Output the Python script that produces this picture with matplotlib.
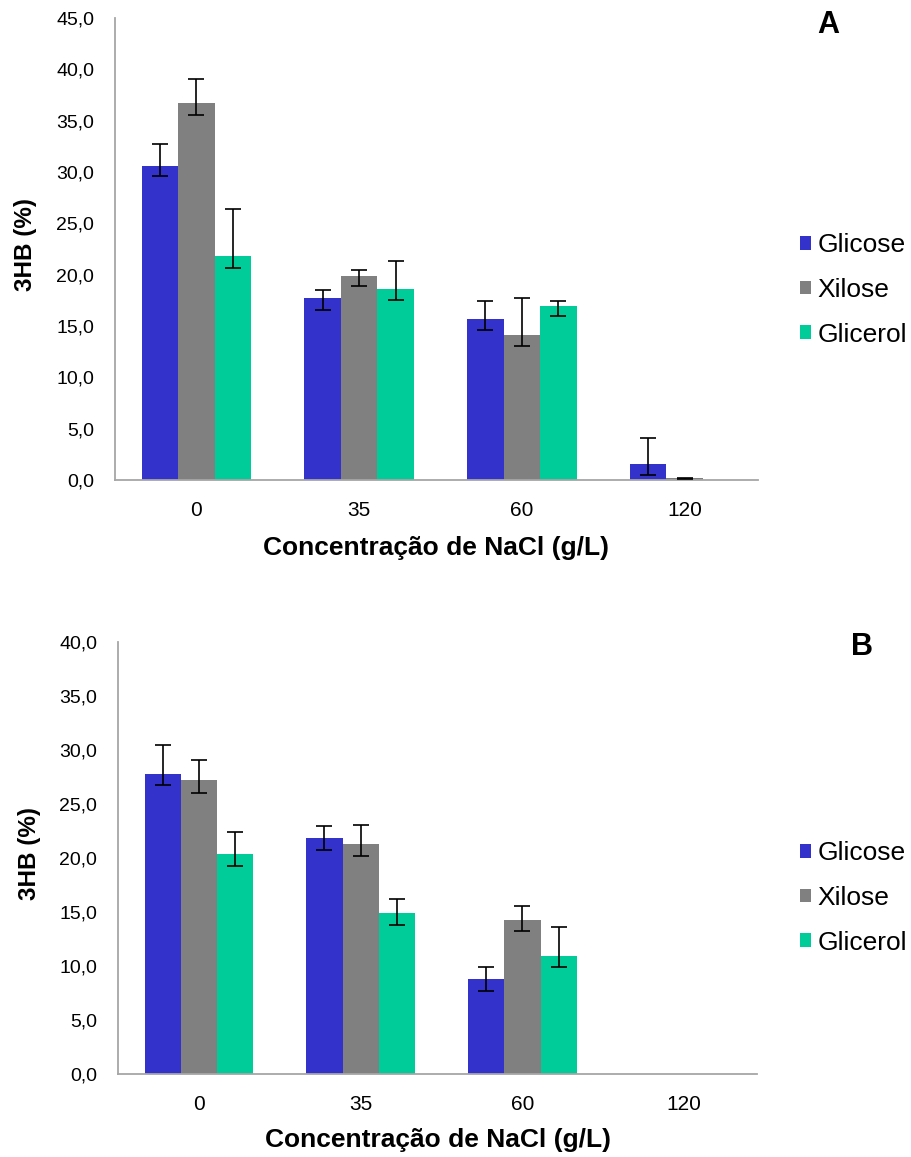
import numpy as np
import matplotlib
matplotlib.use("Agg")
import matplotlib.pyplot as plt
from matplotlib.ticker import FuncFormatter, MultipleLocator

plt.rcParams['font.family'] = ['Liberation Sans', 'DejaVu Sans']

# NaCl concentrations (g/L)
categories = ["0", "35", "60", "120"]
series_names = ["Glicose", "Xilose", "Glicerol"]
colors = ["#3333CC", "#808080", "#00CC99"]

# Panel A: 3HB (%) with lower / upper error
glicose_a = [30.6, 17.7, 15.7, 1.6]
glicose_a_lo = [1.0, 1.1, 1.1, 1.1]
glicose_a_hi = [2.1, 0.8, 1.7, 2.5]
xilose_a = [36.7, 19.9, 14.1, 0.15]
xilose_a_lo = [1.1, 1.0, 1.0, 0.05]
xilose_a_hi = [2.4, 0.6, 3.6, 0.05]
glicerol_a = [21.8, 18.6, 17.0, 0.05]
glicerol_a_lo = [1.1, 1.1, 1.0, 0.0]
glicerol_a_hi = [4.6, 2.7, 0.4, 0.0]

# Panel B
glicose_b = [27.8, 21.9, 8.8, 0.0]
glicose_b_lo = [1.0, 1.2, 1.1, 0.0]
glicose_b_hi = [2.7, 1.1, 1.1, 0.0]
xilose_b = [27.2, 21.3, 14.3, 0.0]
xilose_b_lo = [1.2, 1.1, 1.1, 0.0]
xilose_b_hi = [1.9, 1.8, 1.3, 0.0]
glicerol_b = [20.4, 14.9, 10.9, 0.0]
glicerol_b_lo = [1.1, 1.1, 1.0, 0.0]
glicerol_b_hi = [2.0, 1.3, 2.7, 0.0]

panel_a = [(glicose_a, glicose_a_lo, glicose_a_hi),
           (xilose_a, xilose_a_lo, xilose_a_hi),
           (glicerol_a, glicerol_a_lo, glicerol_a_hi)]
panel_b = [(glicose_b, glicose_b_lo, glicose_b_hi),
           (xilose_b, xilose_b_lo, xilose_b_hi),
           (glicerol_b, glicerol_b_lo, glicerol_b_hi)]

fig = plt.figure(figsize=(9.12, 11.57), dpi=100)
ax_a = fig.add_axes([0.126, 0.5851, 0.705, 0.3993])
ax_b = fig.add_axes([0.1294, 0.0717, 0.7007, 0.3734])

width = 0.224
x = np.arange(len(categories))
comma = FuncFormatter(lambda v, p: f"{v:.1f}".replace('.', ','))


def draw_panel(ax, data, ymax, xlabel_y, letter, letter_xy, legend_y):
    handles = []
    for i, (vals, lo, hi) in enumerate(data):
        pos = x + (i - 1) * width
        b = ax.bar(pos, vals, width, color=colors[i], label=series_names[i], zorder=2)
        handles.append(b)
        vals = np.array(vals)
        lo = np.array(lo)
        hi = np.array(hi)
        m = (lo + hi) > 0  # no error bars on empty bars
        ax.errorbar(pos[m], vals[m], yerr=[lo[m], hi[m]], fmt='none', ecolor='black',
                    elinewidth=1.2, capsize=6, capthick=1.2, zorder=3)
    ax.set_xlim(-0.5, 3.45)
    ax.set_ylim(0, ymax)
    ax.yaxis.set_major_locator(MultipleLocator(5))
    ax.yaxis.set_major_formatter(comma)
    ax.set_xticks(x)
    ax.set_xticklabels(categories)
    ax.tick_params(axis='y', length=0, labelsize=14, pad=15)
    ax.tick_params(axis='x', length=0, labelsize=15, pad=15)
    for s in ['top', 'right']:
        ax.spines[s].set_visible(False)
    for s in ['left', 'bottom']:
        ax.spines[s].set_color('#A6A6A6')
        ax.spines[s].set_linewidth(1.3)
    ax.set_ylabel("3HB (%)", fontsize=17.5, fontweight='bold')
    ax.yaxis.set_label_coords(-0.121, 0.51)
    ax.set_xlabel("Concentração de NaCl (g/L)", fontsize=19, fontweight='bold')
    ax.xaxis.set_label_coords(0.5, xlabel_y)
    fig.text(letter_xy[0], letter_xy[1], letter, fontsize=22, fontweight='bold',
             ha='center', va='center')
    fig.legend(handles=handles, loc='center left', bbox_to_anchor=(0.877, legend_y),
               frameon=False, fontsize=19, handlelength=0.42, handleheight=0.42,
               handletextpad=0.25, labelspacing=0.78, borderpad=0, borderaxespad=0)


draw_panel(ax_a, panel_a, 45, -0.121, "A", (828 / 912, 1 - 25 / 1157), 1 - 290 / 1157)
draw_panel(ax_b, panel_b, 40, -0.125, "B", (862 / 912, 1 - 647 / 1157), 1 - 898 / 1157)

fig.savefig("out.png", dpi=100)
